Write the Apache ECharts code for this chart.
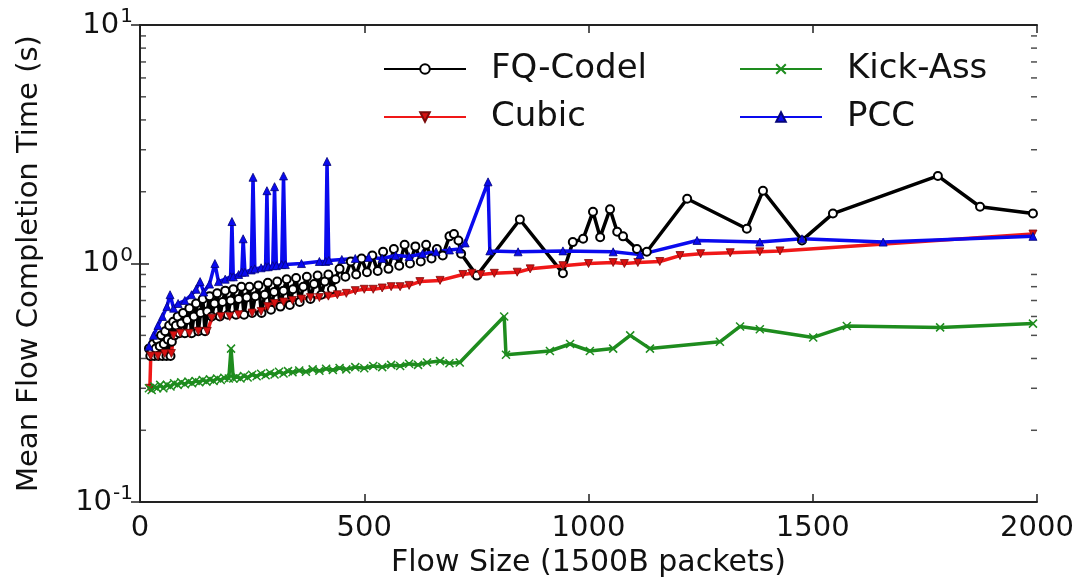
<!DOCTYPE html>
<html>
<head>
<meta charset="utf-8">
<script src="https://cdn.jsdelivr.net/npm/echarts@6/dist/echarts.min.js"></script>
<style>
  html, body { margin: 0; padding: 0; background: #fff; }
  #chart { width: 1081px; height: 583px; }
</style>
</head>
<body>
<div id="chart"></div>
<script>
// flow size (packets) vs mean completion time (s)
const fqCodel = [
  [20, 0.44], [23, 0.41], [26, 0.43], [29, 0.46], [32, 0.41], [35, 0.44], [38, 0.48], [41, 0.41],
  [44, 0.45], [47, 0.50], [50, 0.41], [53, 0.46], [56, 0.52], [59, 0.41], [62, 0.48], [65, 0.55],
  [68, 0.41], [71, 0.47], [74, 0.57], [77, 0.50], [80, 0.55], [84, 0.60], [88, 0.51], [92, 0.56],
  [96, 0.62], [100, 0.51], [105, 0.58], [110, 0.65], [115, 0.51], [120, 0.60], [125, 0.68], [130, 0.52],
  [135, 0.62], [140, 0.71], [145, 0.52], [150, 0.63], [155, 0.73], [160, 0.60], [166, 0.68], [172, 0.75],
  [178, 0.60], [184, 0.69], [190, 0.77], [196, 0.61], [202, 0.70], [208, 0.78], [214, 0.61], [220, 0.71],
  [226, 0.80], [232, 0.61], [238, 0.72], [244, 0.80], [250, 0.62], [257, 0.73], [264, 0.81], [271, 0.62],
  [278, 0.74], [285, 0.83], [292, 0.64], [299, 0.76], [306, 0.84], [313, 0.66], [320, 0.77], [327, 0.86],
  [334, 0.67], [341, 0.78], [348, 0.87], [356, 0.69], [364, 0.80], [372, 0.88], [380, 0.71], [388, 0.82],
  [396, 0.89], [404, 0.74], [412, 0.84], [420, 0.90], [428, 0.78], [436, 0.86], [445, 0.95],
  [458, 0.88], [470, 1.02], [482, 0.90], [494, 1.05], [506, 0.92], [518, 1.08], [530, 0.93], [542, 1.12],
  [554, 0.95], [566, 1.15], [578, 0.98], [590, 1.20], [602, 1.00], [614, 1.18], [626, 1.02], [638, 1.20],
  [650, 1.05], [662, 1.15], [675, 1.08], [690, 1.30], [700, 1.33], [710, 1.25], [716, 1.10], [751, 0.89],
  [847, 1.53], [943, 0.91], [965, 1.23], [988, 1.27], [1010, 1.65], [1026, 1.29], [1048, 1.69], [1064, 1.36],
  [1077, 1.30], [1108, 1.15], [1130, 1.12], [1220, 1.87], [1353, 1.40], [1389, 2.02], [1476, 1.25],
  [1545, 1.62], [1779, 2.33], [1873, 1.73], [1991, 1.62]
]
const cubic = [
  [22, 0.30], [24, 0.41], [40, 0.41], [55, 0.42], [70, 0.42], [75, 0.50], [90, 0.51], [110, 0.51],
  [130, 0.52], [150, 0.52], [160, 0.59], [180, 0.60], [200, 0.60], [220, 0.61], [250, 0.62], [270, 0.63],
  [285, 0.66], [300, 0.68], [320, 0.69], [340, 0.70], [360, 0.71], [380, 0.72], [400, 0.72], [420, 0.73],
  [440, 0.74], [460, 0.75], [480, 0.77], [500, 0.78], [520, 0.78], [540, 0.79], [560, 0.80], [580, 0.80],
  [600, 0.81], [624, 0.84], [669, 0.85], [720, 0.90], [740, 0.91], [760, 0.90], [790, 0.91], [841, 0.92],
  [870, 0.95], [943, 0.98], [1000, 1.00], [1055, 1.01], [1080, 1.00], [1110, 1.01], [1159, 1.02],
  [1204, 1.08], [1250, 1.10], [1316, 1.11], [1382, 1.12], [1427, 1.13], [1991, 1.33]
]
const kickAss = [
  [20, 0.30], [26, 0.295], [32, 0.305], [38, 0.30], [45, 0.31], [52, 0.30], [60, 0.31], [68, 0.305],
  [76, 0.315], [84, 0.31], [92, 0.318], [100, 0.312], [108, 0.32], [116, 0.315], [124, 0.322], [132, 0.318],
  [140, 0.325], [148, 0.32], [156, 0.327], [164, 0.322], [172, 0.33], [180, 0.325], [188, 0.332], [198, 0.33],
  [203, 0.44], [208, 0.33], [216, 0.335], [224, 0.33], [232, 0.338], [240, 0.333], [250, 0.342], [260, 0.337],
  [270, 0.345], [280, 0.34], [290, 0.348], [300, 0.343], [310, 0.352], [320, 0.346], [330, 0.354], [340, 0.35],
  [355, 0.356], [370, 0.352], [385, 0.36], [400, 0.355], [415, 0.362], [430, 0.358], [445, 0.365], [460, 0.36],
  [480, 0.368], [500, 0.364], [520, 0.372], [540, 0.368], [560, 0.376], [580, 0.372], [600, 0.38], [620, 0.376],
  [640, 0.385], [669, 0.39], [690, 0.382], [713, 0.385],
  [812, 0.60], [816, 0.415], [914, 0.43], [959, 0.46], [1003, 0.43], [1055, 0.44], [1093, 0.50],
  [1137, 0.44], [1293, 0.47], [1338, 0.545], [1382, 0.53], [1501, 0.49], [1576, 0.547], [1784, 0.54],
  [1991, 0.56]
]
const pcc = [
  [20, 0.45], [30, 0.50], [40, 0.55], [50, 0.60], [60, 0.66], [67, 0.74], [75, 0.65], [85, 0.68],
  [100, 0.70], [115, 0.74], [125, 0.78], [134, 0.84], [142, 0.76], [155, 0.82], [167, 1.00], [175, 0.84],
  [190, 0.86], [202, 0.88], [205, 1.50], [208, 0.88], [220, 0.90], [227, 0.92], [230, 1.27], [234, 0.92],
  [248, 0.94], [252, 2.30], [256, 0.95], [270, 0.96], [280, 0.97], [283, 2.02], [286, 0.97], [296, 0.98],
  [300, 2.10], [304, 0.98], [316, 0.99], [320, 2.33], [324, 0.99], [360, 1.00], [400, 1.02], [414, 1.02],
  [417, 2.68], [421, 1.03], [450, 1.04], [480, 1.05], [510, 1.06], [540, 1.05], [570, 1.08], [600, 1.07],
  [630, 1.10], [660, 1.12], [690, 1.14], [713, 1.15], [725, 1.22], [776, 2.20], [780, 1.13], [843, 1.12],
  [943, 1.13], [1055, 1.12], [1115, 1.09], [1242, 1.25], [1382, 1.23], [1476, 1.27], [1657, 1.23],
  [1991, 1.30]
]
const xTicks = [0, 500, 1000, 1500, 2000]
const minorYTicks = [0.2, 0.3, 0.4, 0.5, 0.6, 0.7, 0.8, 0.9, 2, 3, 4, 5, 6, 7, 8, 9]

const font = 'DejaVu Sans'

const lineSerie = (name, data, color, symbol, extra) => Object.assign({
  name: name,
  type: 'line',
  data: data,
  color: color,
  symbol: symbol,
  symbolSize: 8,
  lineStyle: { width: 3.5, color: color },
  itemStyle: { color: color, borderColor: color, borderWidth: 1 },
  z: 3,
}, extra || {})

const minorTickSerie = (x, offset) => ({
  type: 'scatter',
  silent: true,
  symbol: 'rect',
  symbolSize: [6, 1.5],
  symbolOffset: [offset, 0],
  itemStyle: { color: '#222' },
  data: minorYTicks.map((v) => [x, v]),
  z: 5,
})

const chart = echarts.init(document.getElementById('chart'))

chart.setOption({
  animation: false,
  backgroundColor: '#fff',
  textStyle: { fontFamily: font },
  grid: { left: 140, right: 44, top: 25, bottom: 78 },
  legend: [
    {
      data: ['FQ-Codel', 'Cubic'],
      orient: 'vertical',
      left: 383,
      top: 52,
      padding: 0,
      itemGap: 14,
      itemWidth: 82,
      itemHeight: 12,
      textStyle: { fontSize: 34, fontFamily: font, color: '#111', padding: [0, 0, 0, 20] },
    },
    {
      data: ['Kick-Ass', 'PCC'],
      orient: 'vertical',
      left: 739,
      top: 52,
      padding: 0,
      itemGap: 14,
      itemWidth: 82,
      itemHeight: 12,
      textStyle: { fontSize: 34, fontFamily: font, color: '#111', padding: [0, 0, 0, 20] },
    },
  ],
  xAxis: [
    {
      type: 'value',
      min: 0,
      max: 2000,
      interval: 500,
      name: 'Flow Size (1500B packets)',
      nameLocation: 'middle',
      nameGap: 44,
      nameTextStyle: { fontSize: 30, color: '#111', fontFamily: font },
      axisLine: { lineStyle: { color: '#222', width: 2 } },
      axisTick: { inside: true, length: 8, lineStyle: { color: '#222', width: 1.5 } },
      axisLabel: {
        fontSize: 29, color: '#111', margin: 12, fontFamily: font,
        formatter: (v) => xTicks.includes(v) ? String(v) : '',
      },
      splitLine: { show: false },
    },
    {
      type: 'value',
      position: 'top',
      min: 0,
      max: 2000,
      interval: 500,
      axisLine: { lineStyle: { color: '#222', width: 2 } },
      axisTick: { inside: true, length: 8, lineStyle: { color: '#222', width: 1.5 } },
      axisLabel: { show: false },
      splitLine: { show: false },
    },
  ],
  yAxis: [
    {
      type: 'log',
      logBase: 10,
      min: 0.1,
      max: 10,
      name: 'Mean Flow Completion Time (s)',
      nameLocation: 'middle',
      nameGap: 96,
      nameTextStyle: { fontSize: 29, color: '#111', fontFamily: font },
      axisLine: { lineStyle: { color: '#222', width: 2 } },
      axisTick: { inside: true, length: 9, lineStyle: { color: '#222', width: 1.5 } },
      axisLabel: {
        margin: 7,
        color: '#111',
        fontFamily: font,
        formatter: (v) => '{b|10}{s|' + Math.round(Math.log10(v)) + '}',
        rich: {
          b: { fontSize: 29, fontFamily: font, color: '#111' },
          s: { fontSize: 20, fontFamily: font, color: '#111', padding: [0, 0, 16, 1] },
        },
      },
      splitLine: { show: false },
    },
    {
      type: 'log',
      logBase: 10,
      min: 0.1,
      max: 10,
      position: 'right',
      axisLine: { lineStyle: { color: '#222', width: 2 } },
      axisTick: { inside: true, length: 9, lineStyle: { color: '#222', width: 1.5 } },
      axisLabel: { show: false },
      splitLine: { show: false },
    },
  ],
  series: [
    lineSerie('FQ-Codel', fqCodel, '#000000', 'emptyCircle', { itemStyle: { color: '#000', borderColor: '#000', borderWidth: 1.8 } }),
    lineSerie('Cubic', cubic, '#f01818', 'triangle', { symbolRotate: 180, itemStyle: { color: '#d81010', borderColor: '#7a0a0a', borderWidth: 0.8 } }),
    lineSerie('Kick-Ass', kickAss, '#1e8c1e', 'path://M0,0L10,10M10,0L0,10', { itemStyle: { color: 'none', borderColor: '#1e8c1e', borderWidth: 1.5 } }),
    lineSerie('PCC', pcc, '#0a0aee', 'triangle', { itemStyle: { color: '#0a0aee', borderColor: '#05057a', borderWidth: 0.8 } }),
    minorTickSerie(0, 3),
    minorTickSerie(2000, -3),
  ],
})

window.addEventListener('resize', () => {
  chart.resize()
})
</script>
</body>
</html>
